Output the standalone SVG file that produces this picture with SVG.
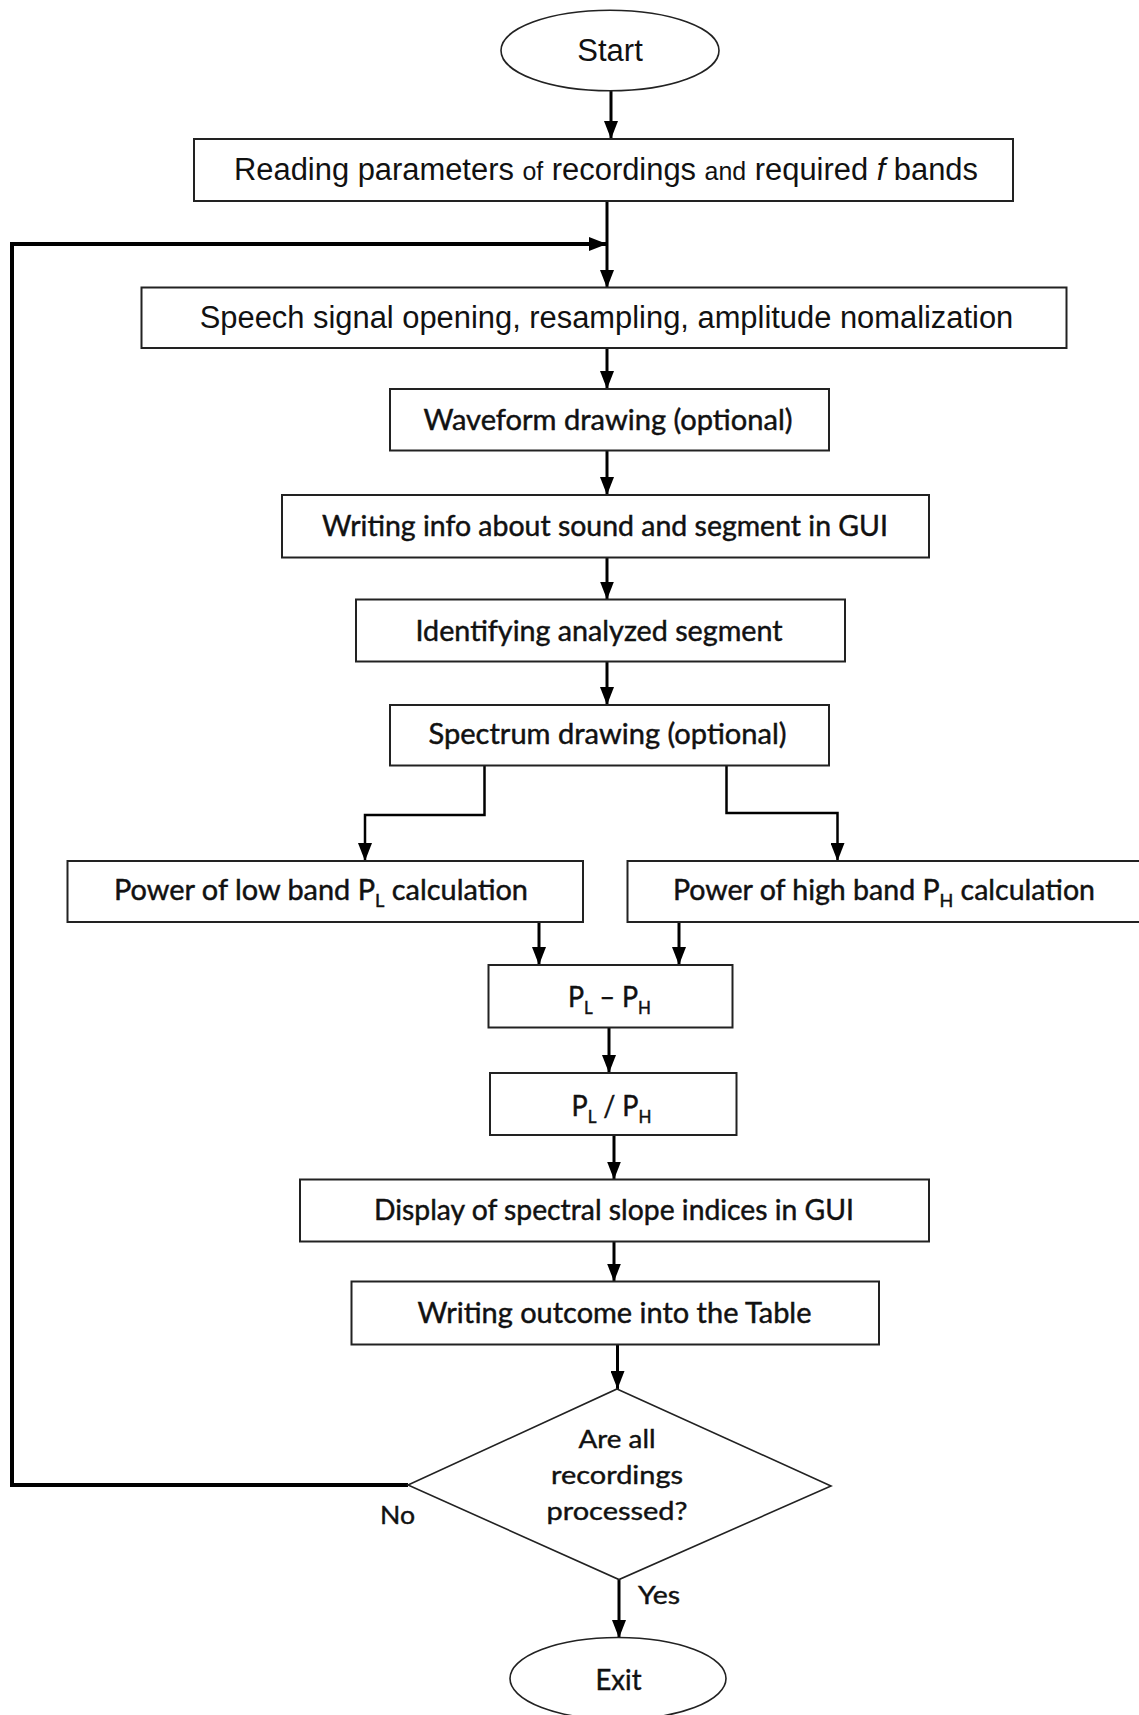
<svg xmlns="http://www.w3.org/2000/svg" width="1139" height="1715" viewBox="0 0 1139 1715">
<defs>
<marker id="arr" markerUnits="userSpaceOnUse" markerWidth="19" markerHeight="14" refX="18" refY="7" orient="auto">
<path d="M0,0 L18,7 L0,14 Z" fill="#000"/>
</marker>
<style>
.box{fill:#fff;stroke:#222;stroke-width:2}
.term{fill:#fff;stroke:#222;stroke-width:1.6}
.ar{font-family:"Liberation Sans",Arial,sans-serif;font-size:31px;fill:#111;text-anchor:middle}
.ca{font-family:Lato,"Open Sans",sans-serif;font-size:28.5px;fill:#111;stroke:#111;stroke-width:0.45;text-anchor:middle}
.dm{font-family:Lato,"Open Sans",sans-serif;font-size:25px;fill:#111;stroke:#111;stroke-width:0.4;text-anchor:middle}
.sub{font-size:18px}
.sm{font-size:25px}
.c{fill:none;stroke:#000;stroke-width:3}
.cb{fill:none;stroke:#000;stroke-width:2.5}
.fb{fill:none;stroke:#000;stroke-width:4}
</style>
</defs>
<rect width="1139" height="1715" fill="#fff"/>

<g id="connectors">
<line class="c" x1="611" y1="91" x2="611" y2="139" marker-end="url(#arr)"/>
<line class="c" x1="607" y1="201" x2="607" y2="288" marker-end="url(#arr)"/>
<path class="fb" d="M408,1485 H12 V244 H607" marker-end="url(#arr)"/>
<line class="c" x1="607" y1="348" x2="607" y2="389" marker-end="url(#arr)"/>
<line class="c" x1="607" y1="451" x2="607" y2="495" marker-end="url(#arr)"/>
<line class="c" x1="607" y1="557.5" x2="607" y2="599.5" marker-end="url(#arr)"/>
<line class="c" x1="607" y1="661.5" x2="607" y2="705" marker-end="url(#arr)"/>
<path class="cb" d="M484.5,765.5 V815 H365 V861" marker-end="url(#arr)"/>
<path class="cb" d="M726.5,765.5 V813 H837.5 V861" marker-end="url(#arr)"/>
<line class="c" x1="539" y1="922" x2="539" y2="965" marker-end="url(#arr)"/>
<line class="c" x1="679" y1="922" x2="679" y2="965" marker-end="url(#arr)"/>
<line class="c" x1="609" y1="1027.5" x2="609" y2="1073" marker-end="url(#arr)"/>
<line class="c" x1="614" y1="1135" x2="614" y2="1179.5" marker-end="url(#arr)"/>
<line class="c" x1="614" y1="1241.5" x2="614" y2="1281.5" marker-end="url(#arr)"/>
<line class="c" x1="617.5" y1="1344.5" x2="617.5" y2="1389" marker-end="url(#arr)"/>
<line class="c" x1="619" y1="1579.5" x2="619" y2="1638" marker-end="url(#arr)"/>
<text class="dm" x="397.5" y="1524" textLength="35" lengthAdjust="spacingAndGlyphs">No</text>
<text class="dm" x="659" y="1604" textLength="42" lengthAdjust="spacingAndGlyphs">Yes</text>
</g>

<g id="start">
<ellipse class="term" cx="610" cy="50.5" rx="109" ry="40.3"/>
<text class="ar" x="610" y="61" textLength="65.5" lengthAdjust="spacingAndGlyphs">Start</text>
</g>

<g id="reading">
<rect class="box" x="194" y="139" width="819" height="62"/>
<text class="ar" x="606" y="179.5" textLength="744" lengthAdjust="spacingAndGlyphs">Reading parameters <tspan class="sm">of</tspan> recordings <tspan class="sm">and</tspan> required <tspan font-style="italic">f</tspan> bands</text>
</g>

<g id="opening">
<rect class="box" x="141.5" y="287.5" width="925" height="60.5"/>
<text class="ar" x="606.5" y="328" textLength="813.5" lengthAdjust="spacingAndGlyphs">Speech signal opening, resampling, amplitude nomalization</text>
</g>

<g id="waveform">
<rect class="box" x="390" y="389" width="439" height="61.5"/>
<text class="ca" x="608" y="430" textLength="369" lengthAdjust="spacingAndGlyphs">Waveform drawing (optional)</text>
</g>

<g id="writinginfo">
<rect class="box" x="282" y="495" width="647" height="62.5"/>
<text class="ca" x="605" y="536" textLength="566" lengthAdjust="spacingAndGlyphs">Writing info about sound and segment in GUI</text>
</g>

<g id="identifying">
<rect class="box" x="356" y="599.5" width="489" height="62"/>
<text class="ca" x="599" y="641" textLength="367" lengthAdjust="spacingAndGlyphs">Identifying analyzed segment</text>
</g>

<g id="spectrum">
<rect class="box" x="390" y="705" width="439" height="60.5"/>
<text class="ca" x="607.5" y="744" textLength="358" lengthAdjust="spacingAndGlyphs">Spectrum drawing (optional)</text>
</g>

<g id="lowband">
<rect class="box" x="67.5" y="861" width="515.5" height="61"/>
<text class="ca" x="321" y="900" textLength="414" lengthAdjust="spacingAndGlyphs">Power of low band P<tspan class="sub" dy="7">L</tspan><tspan dy="-7"> calculation</tspan></text>
</g>

<g id="highband">
<rect class="box" x="627.5" y="861" width="520" height="61"/>
<text class="ca" x="884" y="900" textLength="422" lengthAdjust="spacingAndGlyphs">Power of high band P<tspan class="sub" dy="7">H</tspan><tspan dy="-7"> calculation</tspan></text>
</g>

<g id="diff">
<rect class="box" x="488.5" y="965" width="244" height="62.5"/>
<text class="ca" x="609.5" y="1007" textLength="83" lengthAdjust="spacingAndGlyphs">P<tspan class="sub" dy="7">L</tspan><tspan dy="-7"> – P</tspan><tspan class="sub" dy="7">H</tspan></text>
</g>

<g id="ratio">
<rect class="box" x="490" y="1073" width="246.5" height="62"/>
<text class="ca" x="611.5" y="1116" textLength="80" lengthAdjust="spacingAndGlyphs">P<tspan class="sub" dy="7">L</tspan><tspan dy="-7"> / P</tspan><tspan class="sub" dy="7">H</tspan></text>
</g>

<g id="display">
<rect class="box" x="300" y="1179.5" width="629" height="62"/>
<text class="ca" x="614" y="1220" textLength="480" lengthAdjust="spacingAndGlyphs">Display of spectral slope indices in GUI</text>
</g>

<g id="outcome">
<rect class="box" x="351.5" y="1281.5" width="527.5" height="63"/>
<text class="ca" x="614.5" y="1323" textLength="394" lengthAdjust="spacingAndGlyphs">Writing outcome into the Table</text>
</g>

<g id="decision">
<polygon class="term" points="617,1389 831,1486 619,1579.5 408,1485"/>
<text class="dm" x="617" y="1448" textLength="77" lengthAdjust="spacingAndGlyphs">Are all</text>
<text class="dm" x="617" y="1484" textLength="132" lengthAdjust="spacingAndGlyphs">recordings</text>
<text class="dm" x="617" y="1520" textLength="141" lengthAdjust="spacingAndGlyphs">processed?</text>
</g>

<g id="exit">
<ellipse class="term" cx="618" cy="1678.5" rx="108" ry="41"/>
<text class="ca" x="618.5" y="1689.5" textLength="46" lengthAdjust="spacingAndGlyphs">Exit</text>
</g>
</svg>
